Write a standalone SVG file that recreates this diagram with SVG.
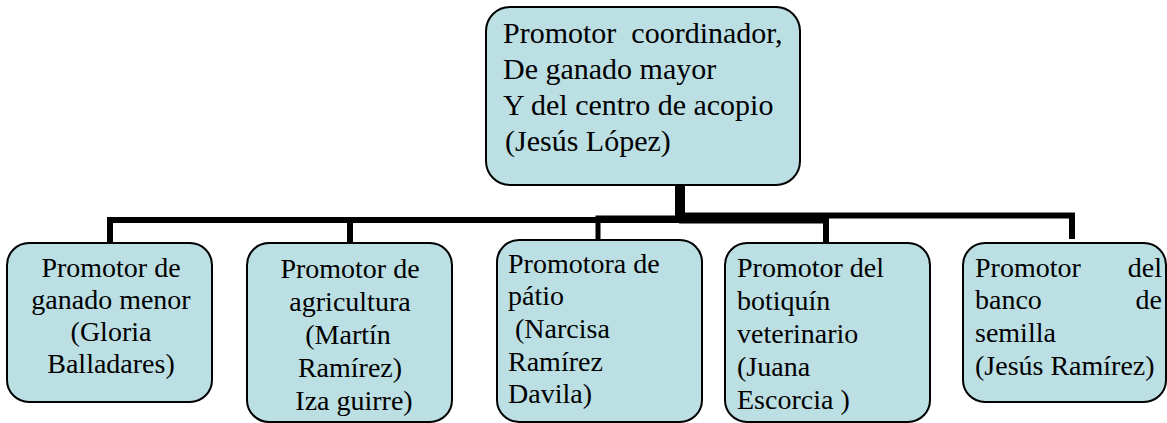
<svg xmlns="http://www.w3.org/2000/svg" width="1167" height="423" viewBox="0 0 1167 423">
<style>
.box{fill:#bbdfe3;stroke:#000;stroke-width:2}
text{font-family:'Liberation Serif','Times New Roman',serif;font-size:28px;fill:#000}
.big{font-size:30px}
.m{text-anchor:middle}
.e{text-anchor:end}
.c{fill:none;stroke:#000;stroke-width:6}
</style>
<rect width="1167" height="423" fill="#fff"/>
<g id="connectors">
<path class="c" d="M678 185 V220 H110 V243"/>
<path class="c" d="M678 185 V220 H350 V243"/>
<path class="c" d="M678 185 V218 H598 V240" style="stroke-width:5"/>
<path class="c" d="M682 185 V220.5 H826 V243"/>
<path class="c" d="M682 185 V215.5 H1072 V239"/>
</g>
<g id="top">
<rect class="box" x="486" y="7" width="314" height="178" rx="24"/>
<text class="big" xml:space="preserve"><tspan x="503" y="43">Promotor  coordinador,</tspan><tspan x="503" y="79">De ganado mayor</tspan><tspan x="503" y="115">Y del centro de acopio</tspan><tspan x="505" y="151">(Jesús López)</tspan></text>
</g>
<g id="n1">
<rect class="box" x="7" y="243" width="205" height="159" rx="22"/>
<text class="m"><tspan x="111" y="277">Promotor de</tspan><tspan x="111" y="309">ganado menor</tspan><tspan x="111" y="341">(Gloria</tspan><tspan x="111" y="373">Balladares)</tspan></text>
</g>
<g id="n2">
<rect class="box" x="247" y="243" width="205" height="179" rx="22"/>
<text class="m"><tspan x="350" y="278">Promotor de</tspan><tspan x="350" y="311">agricultura</tspan><tspan x="348" y="344">(Martín</tspan><tspan x="350" y="377">Ramírez)</tspan><tspan x="354" y="410">Iza guirre)</tspan></text>
</g>
<g id="n3">
<rect class="box" x="497" y="240" width="205" height="182" rx="22"/>
<text><tspan x="508" y="273">Promotora de</tspan><tspan x="508" y="305">pátio</tspan><tspan x="515" y="338">(Narcisa</tspan><tspan x="508" y="371">Ramírez</tspan><tspan x="508" y="403">Davila)</tspan></text>
</g>
<g id="n4">
<rect class="box" x="725" y="243" width="205" height="179" rx="22"/>
<text><tspan x="737" y="277">Promotor del</tspan><tspan x="737" y="310">botiquín</tspan><tspan x="737" y="343">veterinario</tspan><tspan x="737" y="376">(Juana</tspan><tspan x="737" y="409">Escorcia )</tspan></text>
</g>
<g id="n5">
<rect class="box" x="963" y="243" width="203" height="159" rx="22"/>
<text><tspan x="975" y="277">Promotor</tspan><tspan x="975" y="309">banco</tspan><tspan x="975" y="342">semilla</tspan><tspan x="975" y="375">(Jesús Ramírez)</tspan></text>
<text class="e"><tspan x="1162" y="277">del</tspan><tspan x="1162" y="309">de</tspan></text>
</g>
</svg>
